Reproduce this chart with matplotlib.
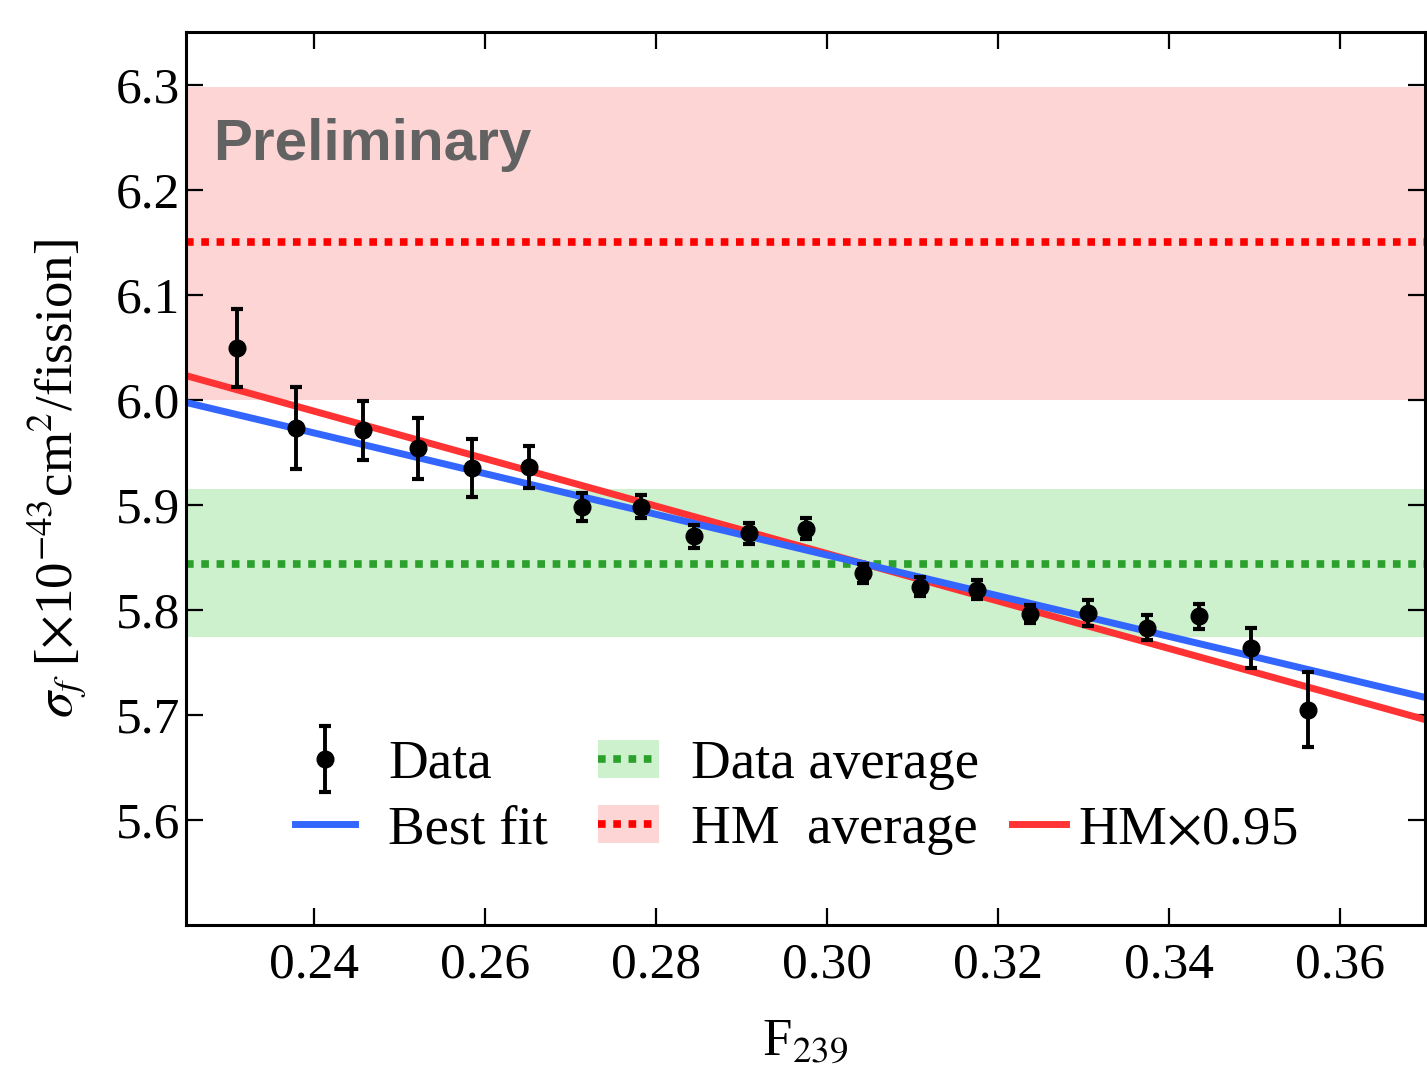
import numpy as np
import matplotlib
matplotlib.use('Agg')
import matplotlib.pyplot as plt
from matplotlib.lines import Line2D
from matplotlib.patches import Patch
from matplotlib.legend_handler import HandlerErrorbar

# data
f239 = [0.2310, 0.2379, 0.2457, 0.2522, 0.2585, 0.2652, 0.2714, 0.2783, 0.2844, 0.2909,
        0.2976, 0.3042, 0.3109, 0.3176, 0.3238, 0.3306, 0.3375, 0.3436, 0.3496, 0.3563]
sigma = [6.049, 5.973, 5.971, 5.954, 5.935, 5.936, 5.898, 5.898, 5.870, 5.873,
         5.877, 5.835, 5.822, 5.819, 5.796, 5.797, 5.783, 5.794, 5.764, 5.705]
sigma_err = [0.037, 0.039, 0.028, 0.029, 0.028, 0.020, 0.013, 0.011, 0.011, 0.010,
             0.010, 0.009, 0.009, 0.009, 0.009, 0.012, 0.012, 0.012, 0.019, 0.036]

# best fit and HM x 0.95 lines: intercept, slope
fit_line = (6.433, -1.936)
hm_line = (6.531, -2.258)

data_avg, data_avg_lo, data_avg_hi = 5.844, 5.774, 5.915
hm_avg, hm_avg_lo, hm_avg_hi = 6.150, 6.000, 6.298

plt.rcParams['font.family'] = 'Liberation Serif'
plt.rcParams['mathtext.fontset'] = 'stix'


def main():
    fig = plt.figure(figsize=(14.27, 10.70), dpi=100)
    ax = fig.add_axes([0.1303, 0.1355, 0.8683, 0.8346])
    xlim = (0.225, 0.370)

    ax.axhspan(hm_avg_lo, hm_avg_hi, color='#fdd5d5', lw=0, zorder=0)
    ax.axhspan(data_avg_lo, data_avg_hi, color='#cdf0cd', lw=0, zorder=0)
    ax.axhline(hm_avg, color='#ff0000', lw=5.5, ls=(0, (1, 1)), zorder=1)
    ax.axhline(data_avg, color='#2ca02c', lw=5.5, ls=(0, (1, 1)), zorder=1)

    xs = np.array(xlim)
    ax.plot(xs, hm_line[0] + hm_line[1] * xs, color='#ff3333', lw=5, zorder=2)
    ax.plot(xs, fit_line[0] + fit_line[1] * xs, color='#3366ff', lw=5, zorder=2)

    eb = ax.errorbar(f239, sigma, yerr=sigma_err, fmt='o', color='black', ms=12,
                     elinewidth=2.8, capsize=4, capthick=3, zorder=3)

    ax.set_xlim(*xlim)
    ax.set_ylim(5.5, 6.35)
    ax.set_xticks([0.24, 0.26, 0.28, 0.30, 0.32, 0.34, 0.36])
    ax.set_yticks([5.6, 5.7, 5.8, 5.9, 6.0, 6.1, 6.2, 6.3])
    ax.xaxis.set_major_formatter(matplotlib.ticker.FormatStrFormatter('%.2f'))
    ax.yaxis.set_major_formatter(matplotlib.ticker.FormatStrFormatter('%.1f'))
    ax.tick_params(direction='in', top=True, right=True, length=12, width=1.6,
                   labelsize=37)
    ax.tick_params(axis='x', pad=12)
    ax.tick_params(axis='y', pad=4)
    for s in ax.spines.values():
        s.set_linewidth(2.2)

    ax.set_xlabel('F$_{239}$', fontsize=38, labelpad=22)
    ax.set_ylabel(r'$\sigma_f$ [$\times$10$^{-43}$cm$^2$/fission]', fontsize=38, labelpad=20)

    ax.text(0.022, 0.857, 'Preliminary', transform=ax.transAxes, fontsize=42,
            fontweight='bold', family='Liberation Sans', color='#626262', va='baseline')

    h_fit = Line2D([], [], color='#3366ff', lw=5)
    h_hm = Line2D([], [], color='#ff3333', lw=5)
    h_davg = (Patch(color='#cdf0cd', lw=0),
              Line2D([], [], color='#2ca02c', lw=5.5, ls=(0, (1, 1))))
    h_hmavg = (Patch(color='#fdd5d5', lw=0),
               Line2D([], [], color='#ff0000', lw=5.5, ls=(0, (1, 1))))
    leg1 = ax.legend([eb, h_fit, h_davg, h_hmavg],
                     ['Data', 'Best fit', 'Data average', 'HM  average'],
                     ncol=2, frameon=False, fontsize=39.5, loc='lower left',
                     bbox_to_anchor=(0.070, 0.0535), handlelength=1.1, handletextpad=0.6,
                     columnspacing=0.92, labelspacing=0.27, borderaxespad=0,
                     handler_map={type(eb): HandlerErrorbar(yerr_size=0.6)})
    ax.add_artist(leg1)
    ax.legend([h_hm], [r'HM$\times$0.95'], frameon=False, fontsize=39.5,
              loc='lower left', bbox_to_anchor=(0.649, 0.0535), handlelength=0.98,
              handletextpad=0.22, borderaxespad=0)

    fig.savefig('out.png', dpi=100)
    plt.close(fig)


if __name__ == "__main__":
    main()
